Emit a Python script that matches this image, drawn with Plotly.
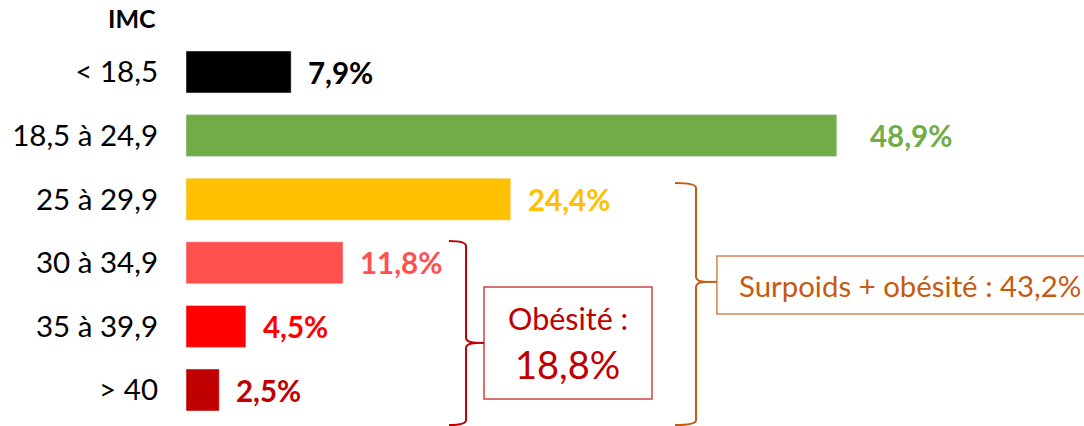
import plotly.graph_objects as go

# ---- data ----
categories = ["< 18,5", "18,5 à 24,9", "25 à 29,9", "30 à 34,9", "35 à 39,9", "> 40"]
values = [7.9, 48.9, 24.4, 11.8, 4.5, 2.5]
colors = ["#000000", "#70AD47", "#FFC000", "#FF5050", "#FF0000", "#C00000"]
axis_title = "IMC"
obesity_idx = [3, 4, 5]
overweight_idx = [2, 3, 4, 5]

# label offsets (px) from bar end
label_gap = [15, 31, 15, 15, 15, 15]

def fmt(v):
    return f"{v:.1f}".replace(".", ",") + "%"

idx = list(range(len(categories)))
obesity_total = sum(values[i] for i in obesity_idx)
overweight_total = sum(values[i] for i in overweight_idx)

FONT = "Lato"
RED = "#C00000"
ORANGE = "#C55A11"

fig = go.Figure()
fig.add_trace(go.Bar(
    x=values, y=idx, orientation="h", marker_color=colors, width=0.66,
    hoverinfo="skip", showlegend=False,
))

annotations = []
for v, i, c, g in zip(values, idx, colors, label_gap):
    annotations.append(dict(
        x=v, y=i, xref="x", yref="y", text=f"<b>{fmt(v)}</b>", showarrow=False,
        xanchor="left", yanchor="middle", xshift=g,
        font=dict(family=FONT, size=29.5, color=c),
    ))

annotations.append(dict(
    x=0, y=-0.85, xref="paper", yref="y", text=f"<b>{axis_title}</b>", showarrow=False,
    xanchor="right", yanchor="middle", xshift=-28,
    font=dict(family=FONT, size=25, color="#000000"),
))

def brace(x0, xv, xt, ytop, ytip, ybot, r=0.08):
    return (f"M {x0},{ytop} Q {xv},{ytop} {xv},{ytop + r} "
            f"L {xv},{ytip - r} Q {xv},{ytip} {xt},{ytip} "
            f"Q {xv},{ytip} {xv},{ytip + r} "
            f"L {xv},{ybot - r} Q {xv},{ybot} {x0},{ybot}")

shapes = []
# obesity brace + box
shapes.append(dict(type="path", xref="x", yref="y",
                   path=brace(19.76, 21.04, 21.94, 2.657, 4.26, 5.55),
                   line=dict(color=RED, width=2)))
shapes.append(dict(type="line", xref="x", yref="y", x0=21.94, x1=22.39, y0=4.26, y1=4.26,
                   line=dict(color=RED, width=2)))
shapes.append(dict(type="rect", xref="x", yref="y", x0=22.39, x1=35.01, y0=3.38, y1=5.14,
                   line=dict(color="rgba(192,0,0,0.75)", width=1.5)))
annotations.append(dict(x=28.7, y=3.868, xref="x", yref="y", text="Obésité :", showarrow=False,
                        font=dict(family=FONT, size=30.5, color=RED)))
annotations.append(dict(x=28.7, y=4.59, xref="x", yref="y", text=fmt(obesity_total), showarrow=False,
                        font=dict(family=FONT, size=38, color=RED)))

# overweight brace + box
shapes.append(dict(type="path", xref="x", yref="y",
                   path=brace(36.74, 38.32, 39.07, 1.745, 3.30, 5.55),
                   line=dict(color=ORANGE, width=2)))
shapes.append(dict(type="line", xref="x", yref="y", x0=39.07, x1=39.89, y0=3.30, y1=3.30,
                   line=dict(color=ORANGE, width=2)))
shapes.append(dict(type="rect", xref="x", yref="y", x0=39.89, x1=69.0, y0=2.893, y1=3.805,
                   line=dict(color="rgba(197,90,17,0.75)", width=1.5)))
annotations.append(dict(x=41.4, y=3.349, xref="x", yref="y",
                        text=f"Surpoids + obésité : {fmt(overweight_total)}", showarrow=False,
                        xanchor="left", font=dict(family=FONT, size=29.4, color=ORANGE)))

fig.update_layout(
    width=1084, height=426,
    margin=dict(l=186, r=0, t=0, b=0),
    paper_bgcolor="white", plot_bgcolor="white",
    xaxis=dict(range=[0, 67.47], visible=False, fixedrange=True),
    yaxis=dict(range=[5.566, -1.132], tickvals=idx, ticktext=categories,
               showgrid=False, zeroline=False, showline=False, ticks="",
               ticklabelstandoff=27, tickfont=dict(family=FONT, size=29.5, color="#000000"),
               fixedrange=True),
    shapes=shapes, annotations=annotations,
    showlegend=False,
)

fig.write_html("out.html", config={"displayModeBar": False},
               post_script="document.body.style.margin='0';")
